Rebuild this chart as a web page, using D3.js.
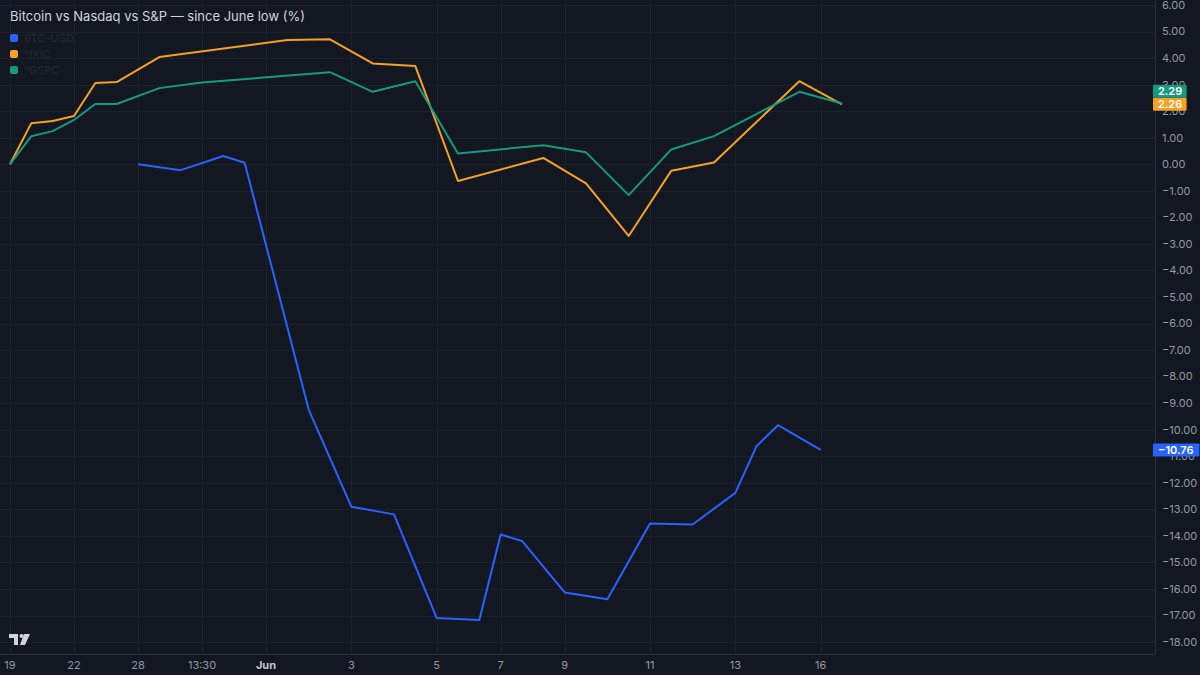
<!DOCTYPE html>
<html>
<head>
<meta charset="utf-8">
<script src="https://cdn.jsdelivr.net/npm/d3@7.9.0/dist/d3.min.js"></script>
<style>
  html, body { margin: 0; padding: 0; background: #131722; }
  svg { display: block; font-family: Inter, "Liberation Sans", sans-serif; }
</style>
</head>
<body>
<svg id="chart" width="1200" height="675"></svg>
<script>
// bar slots 0..39 (TradingView index axis), null = no print at that slot
const btcUsd = [null, null, null, null, null, null, 0.00, null, -0.22, null,
  0.31, 0.06, null, null, -9.24, null, -12.90, null, -13.19, null,
  -17.09, null, -17.17, -13.95, -14.19, null, -16.13, null, -16.39, null,
  -13.53, null, -13.57, null, -12.38, -10.61, -9.83, null, -10.76, null];

const ixic = [0.00, 1.55, 1.63, 1.82, 3.06, 3.10, null, 4.04, null, null,
  null, null, null, 4.68, null, 4.71, null, 3.80, null, 3.70,
  null, -0.63, null, null, null, 0.24, null, -0.72, null, -2.70,
  null, -0.24, null, 0.07, null, null, null, 3.13, null, 2.26];

const gspc = [0.00, 1.06, 1.25, 1.67, 2.27, 2.27, null, 2.87, null, 3.08,
  null, null, null, null, null, 3.47, null, 2.73, null, 3.13,
  null, 0.41, null, null, null, 0.72, null, 0.45, null, -1.16,
  null, 0.56, null, 1.06, null, null, null, 2.73, null, 2.29];

const seriesNames = ['BTC-USD', '^IXIC', '^GSPC'];
const seriesColors = ['#2962ff', '#f5a124', '#16997e'];

const tickSlots = [0, 3, 6, 9, 12, 16, 20, 23, 26, 30, 34, 38];
const tickLabels = ['19', '22', '28', '13:30', 'Jun', '3', '5', '7', '9', '11', '13', '16'];

const yTicks = d3.range(-18, 7, 1);

const W = 1200, H = 675;
const plotRight = 1155, plotBottom = 654;

const svg = d3.select('#chart');
svg.append('rect').attr('width', W).attr('height', H).attr('fill', '#131722');

const x = d3.scaleLinear().domain([0, 39]).range([10, 842]);
const y = d3.scaleLinear().domain([-18.45, 6.19]).range([plotBottom, 0]);

// grid
const grid = svg.append('g');
grid.selectAll('.hg').data(yTicks).join('line')
  .attr('x1', 0).attr('x2', plotRight)
  .attr('y1', d => Math.round(y(d)) + 0.5).attr('y2', d => Math.round(y(d)) + 0.5)
  .attr('stroke', '#1c202b');
grid.selectAll('.vg').data(tickSlots).join('line')
  .attr('x1', d => Math.round(x(d)) + 0.5).attr('x2', d => Math.round(x(d)) + 0.5)
  .attr('y1', 0).attr('y2', plotBottom)
  .attr('stroke', '#1c202b');

// axes lines
svg.append('line').attr('x1', 0).attr('x2', plotRight)
  .attr('y1', plotBottom + 0.5).attr('y2', plotBottom + 0.5).attr('stroke', '#2a2e39');
svg.append('line').attr('x1', plotRight + 0.5).attr('x2', plotRight + 0.5)
  .attr('y1', 0).attr('y2', plotBottom + 0.5).attr('stroke', '#2a2e39');

// y axis (right)
const fmt = v => (v < 0 ? '\u2212' : '') + Math.abs(v).toFixed(2);
svg.append('g').selectAll('text').data(yTicks).join('text')
  .attr('x', 1162).attr('y', d => y(d))
  .attr('dy', '0.35em')
  .attr('fill', '#9598a1').attr('font-size', 11)
  .text(fmt);

// x axis
svg.append('g').selectAll('text').data(tickSlots).join('text')
  .attr('x', d => x(d)).attr('y', 669)
  .attr('text-anchor', 'middle')
  .attr('fill', (d, i) => tickLabels[i] === 'Jun' ? '#c3c6ce' : '#9598a1')
  .attr('font-size', 11)
  .attr('font-weight', (d, i) => tickLabels[i] === 'Jun' ? 700 : 400)
  .text((d, i) => tickLabels[i]);

// lines
const allSeries = [btcUsd, ixic, gspc];
const line = d3.line().x(d => x(d.i)).y(d => y(d.v));
allSeries.forEach((s, k) => {
  const pts = s.map((v, i) => ({ i, v })).filter(d => d.v !== null);
  svg.append('path')
    .attr('d', line(pts))
    .attr('fill', 'none')
    .attr('stroke', seriesColors[k])
    .attr('stroke-width', 2)
    .attr('stroke-linejoin', 'round');
});

// last value labels on the price scale
const boxH = 13;
let labels = allSeries.map((s, k) => {
  const pts = s.filter(v => v !== null);
  const v = pts[pts.length - 1];
  return { v, k, cy: y(v) };
}).sort((a, b) => b.cy - a.cy);
for (let j = 1; j < labels.length; j++) {
  if (labels[j - 1].cy - labels[j].cy < boxH) labels[j].cy = labels[j - 1].cy - boxH;
}
const lab = svg.append('g').selectAll('g').data(labels).join('g');
lab.append('rect')
  .attr('x', 1153).attr('y', d => d.cy - boxH / 2)
  .attr('width', d => fmt(d.v).length * 6.4 + 8).attr('height', boxH)
  .attr('rx', 1)
  .attr('fill', d => seriesColors[d.k]);
lab.append('text')
  .attr('x', 1158).attr('y', d => d.cy).attr('dy', '0.36em')
  .attr('fill', '#ffffff').attr('font-size', 11).attr('font-weight', 600)
  .text(d => fmt(d.v));

// title
svg.append('text').attr('x', 10).attr('y', 21)
  .attr('fill', '#d1d4dc').attr('font-size', 13)
  .text('Bitcoin vs Nasdaq vs S&P \u2014 since June low (%)');

// legend
const leg = svg.append('g').selectAll('g').data(seriesNames).join('g')
  .attr('transform', (d, i) => `translate(10, ${34 + i * 16})`);
leg.append('rect').attr('width', 8).attr('height', 8).attr('rx', 2)
  .attr('fill', (d, i) => seriesColors[i]);
leg.append('text').attr('x', 14).attr('y', 4).attr('dy', '0.35em')
  .attr('fill', '#262a35').attr('font-size', 11)
  .text(d => d);

// TradingView mark
const logo = svg.append('g').attr('transform', 'translate(9, 634)').attr('fill', '#d1d4dc');
logo.append('path').attr('d', 'M0 0 H9 V11 H5 V4 H0 Z');
logo.append('circle').attr('cx', 12.5).attr('cy', 2).attr('r', 2);
logo.append('path').attr('d', 'M15 0 H21 L16 11 H11 Z');
</script>
</body>
</html>
